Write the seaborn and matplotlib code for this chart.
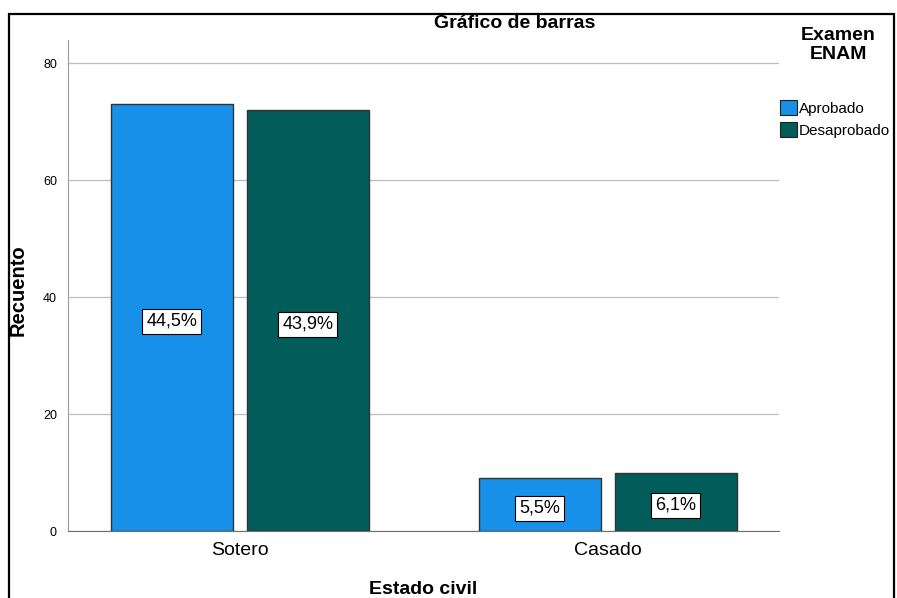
import matplotlib
matplotlib.use("Agg")
import matplotlib.pyplot as plt
import matplotlib.patches as mpatches
import seaborn as sns
import pandas as pd

# data
estado_civil = ["Sotero", "Casado"]
examen = ["Aprobado", "Desaprobado"]
recuento_aprobado = [73, 9]
recuento_desaprobado = [72, 10]
porcentajes_aprobado = ["44,5%", "5,5%"]
porcentajes_desaprobado = ["43,9%", "6,1%"]

colores = {"Aprobado": "#1690E8", "Desaprobado": "#015C5A"}

df = pd.DataFrame({
    "Estado civil": estado_civil * 2,
    "Examen": [examen[0]] * 2 + [examen[1]] * 2,
    "Recuento": recuento_aprobado + recuento_desaprobado,
    "Etiqueta": porcentajes_aprobado + porcentajes_desaprobado,
})

sns.set_style("white")
plt.rcParams["font.family"] = ["Liberation Sans", "DejaVu Sans"]
plt.rcParams["text.color"] = "black"
plt.rcParams["xtick.color"] = "black"
plt.rcParams["ytick.color"] = "black"

fig = plt.figure(figsize=(8.97, 5.98), dpi=100)
ax = fig.add_axes([68 / 897, 1 - 531 / 598, 711 / 897, 491 / 598])

sns.barplot(data=df, x="Estado civil", y="Recuento", hue="Examen",
            order=estado_civil, hue_order=examen, palette=colores,
            saturation=1, width=0.739, gap=0.103, edgecolor="#333333",
            linewidth=1.0, legend=False, ax=ax, zorder=3)

# percentage boxes in the middle of each bar
for cont, etiquetas in zip(ax.containers, [porcentajes_aprobado, porcentajes_desaprobado]):
    for bar, txt in zip(cont, etiquetas):
        ax.text(bar.get_x() + bar.get_width() / 2, bar.get_height() / 2 - 0.6, txt,
                ha="center", va="center", fontsize=13, zorder=5,
                bbox=dict(boxstyle="square,pad=0.22", fc="white", ec="black", lw=0.8))

ax.set_ylim(0, 84)
ax.set_xlim(-0.467, 1.465)
ax.set_yticks([0, 20, 40, 60, 80])
ax.yaxis.grid(True, color="#bdbdbd", lw=0.9, zorder=0)
ax.set_axisbelow(True)
ax.tick_params(axis="y", labelsize=9, length=0, pad=8)
ax.tick_params(axis="x", labelsize=14, length=0, pad=8)
for s in ["top", "right"]:
    ax.spines[s].set_visible(False)
ax.spines["left"].set_color("#9a9a9a")
ax.spines["bottom"].set_color("#6f6f6f")

ax.set_xlabel("")
ax.set_ylabel("")
fig.text(423 / 897, 1 - 589 / 598, "Estado civil", ha="center", va="center",
         fontsize=14, fontweight="bold")
fig.text(18 / 897, 1 - 290 / 598, "Recuento", ha="center", va="center",
         rotation=90, fontsize=14.5, fontweight="bold")
fig.text(515 / 897, 1 - 24 / 598, "Gráfico de barras", ha="center", va="center",
         fontsize=14, fontweight="bold")

# legend
fig.text(838 / 897, 1 - 45 / 598, "Examen\nENAM", ha="center", va="center",
         fontsize=14, fontweight="bold", linespacing=1.15)
handles = [mpatches.Patch(facecolor=colores[k], edgecolor="#222222", lw=0.8, label=k)
           for k in examen]
fig.legend(handles=handles, loc="upper left",
           bbox_to_anchor=(780 / 897, 1 - 100 / 598), frameon=False,
           fontsize=11, handlelength=1.1, handleheight=1.1, handletextpad=0.15,
           labelspacing=0.45, borderaxespad=0, borderpad=0)

# outer frame
fig.patches.append(mpatches.Rectangle((9 / 897, -0.05), 885 / 897, 1.05 - 14 / 598,
                                      transform=fig.transFigure, fill=False,
                                      ec="black", lw=1.6))

plt.savefig("out.png", dpi=100)
plt.close()
